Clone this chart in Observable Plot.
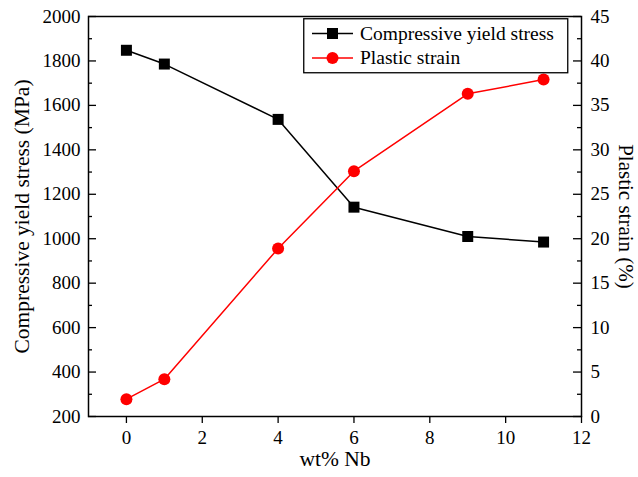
<!DOCTYPE html>
<html><head><meta charset="utf-8">
<script src="https://cdn.jsdelivr.net/npm/d3@7"></script>
<script src="https://cdn.jsdelivr.net/npm/@observablehq/plot@0.6"></script>
<style>
body{margin:0;background:#fff;}
#wrap{position:relative;width:638px;height:477px;font-family:"Liberation Serif","Times New Roman",serif;}
#legend{position:absolute;left:303px;top:18px;}
</style></head><body><div id="wrap"></div>
<script>
const nb = [0, 1, 4, 6, 9, 11];
const yieldStress = [1848, 1786, 1537, 1142, 1010, 985];
const plasticStrain = [1.95, 4.2, 18.9, 27.6, 36.3, 37.9];
const xTicks = [0, 2, 4, 6, 8, 10, 12];
const leftTicks = [200, 400, 600, 800, 1000, 1200, 1400, 1600, 1800, 2000];
const leftMinor = [300, 500, 700, 900, 1100, 1300, 1500, 1700, 1900];
const rightTicks = [0, 5, 10, 15, 20, 25, 30, 35, 40, 45];
const rightMinor = [2.5, 7.5, 12.5, 17.5, 22.5, 27.5, 32.5, 37.5, 42.5];
const seriesNames = ["Compressive yield stress", "Plastic strain"];
const xTitle = "wt% Nb";
const yLeftTitle = "Compressive yield stress (MPa)";
const yRightTitle = "Plastic strain (%)";

// right axis (0–45 %) mapped onto left scale (200–2000 MPa)
const toLeft = v => 200 + v * (1800 / 45);
const fromLeft = d => (d - 200) * 45 / 1800;

const W = 638, H = 477, mL = 88, mR = 57, mT = 16, mB = 61;
const plotW = W - mL - mR;
const FONT = '"Liberation Serif","Times New Roman",serif';

const stress = nb.map((x, i) => ({x, y: yieldStress[i]}));
const strain = nb.map((x, i) => ({x, y: toLeft(plasticStrain[i])}));

const chart = Plot.plot({
  width: W, height: H,
  marginLeft: mL, marginRight: mR, marginTop: mT, marginBottom: mB,
  style: {fontFamily: FONT, fontSize: "19px", color: "#000", background: "#fff"},
  x: {domain: [-1, 12]},
  y: {domain: [200, 2000]},
  marks: [
    // inward ticks, left
    Plot.tickY(leftTicks, {y: d => d, stroke: "#000", strokeWidth: 1.3, insetRight: plotW - 8}),
    Plot.tickY(leftMinor, {y: d => d, stroke: "#000", strokeWidth: 1.3, insetRight: plotW - 4}),
    // inward ticks, right
    Plot.tickY(rightTicks.map(toLeft), {y: d => d, stroke: "#000", strokeWidth: 1.3, insetLeft: plotW - 8}),
    Plot.tickY(rightMinor.map(toLeft), {y: d => d, stroke: "#000", strokeWidth: 1.3, insetLeft: plotW - 4}),
    Plot.axisX({ticks: xTicks, tickFormat: d => String(d), tickSize: 7, tickPadding: 7, strokeWidth: 1.3, label: null, fontSize: 19}),
    Plot.axisY({anchor: "left", ticks: leftTicks, tickFormat: d => String(d), tickSize: 0, tickPadding: 8, label: null, fontSize: 19}),
    Plot.axisY({anchor: "right", ticks: rightTicks.map(toLeft), tickFormat: d => String(Math.round(fromLeft(d))), tickSize: 0, tickPadding: 9, label: null, fontSize: 19}),
    Plot.frame({stroke: "#000", strokeWidth: 1.5}),
    Plot.line(stress, {x: "x", y: "y", stroke: "#000", strokeWidth: 1.5}),
    Plot.line(strain, {x: "x", y: "y", stroke: "#ff0000", strokeWidth: 1.5}),
    Plot.dot(stress, {x: "x", y: "y", symbol: "square", r: 6.2, fill: "#000"}),
    Plot.dot(strain, {x: "x", y: "y", symbol: "circle", r: 6, fill: "#ff0000"}),
    Plot.text([xTitle], {frameAnchor: "bottom", dy: 49, text: d => d, fontSize: 21.5, fill: "#000", textAnchor: "middle"}),
    Plot.text([yLeftTitle], {frameAnchor: "left", dx: -66, rotate: -90, text: d => d, fontSize: 21.5, fill: "#000", textAnchor: "middle"}),
    Plot.text([yRightTitle], {frameAnchor: "right", dx: 44, rotate: 90, text: d => d, fontSize: 21, fill: "#000", textAnchor: "middle"})
  ]
});
const wrap = document.getElementById("wrap");
wrap.appendChild(chart);

// legend
const colors = ["#000", "#ff0000"];
const symbols = ["square", "circle"];
const lg = d3.select(wrap).append("svg").attr("id", "legend").attr("width", 266).attr("height", 56);
lg.append("rect").attr("x", 0.75).attr("y", 0.75).attr("width", 264).attr("height", 54)
  .attr("fill", "#fff").attr("stroke", "#000").attr("stroke-width", 1.3);
seriesNames.forEach((name, i) => {
  const cy = 15.5 + i * 24.5;
  lg.append("line").attr("x1", 9).attr("x2", 50).attr("y1", cy).attr("y2", cy)
    .attr("stroke", colors[i]).attr("stroke-width", 1.5);
  if (symbols[i] === "square") {
    lg.append("rect").attr("x", 29.5 - 5.5).attr("y", cy - 5.5).attr("width", 11).attr("height", 11).attr("fill", colors[i]);
  } else {
    lg.append("circle").attr("cx", 29.5).attr("cy", cy).attr("r", 6).attr("fill", colors[i]);
  }
  lg.append("text").attr("x", 57).attr("y", cy).attr("dy", "0.33em")
    .attr("font-family", FONT).attr("font-size", 19.5)
    .attr("fill", "#000").text(name);
});
</script></body></html>
